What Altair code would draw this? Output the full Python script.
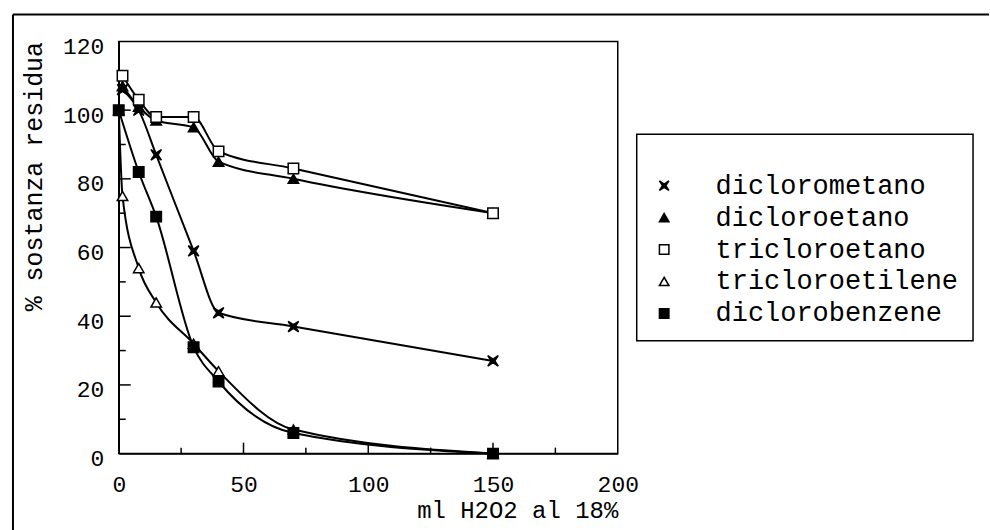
import altair as alt
import pandas as pd

# ---- data ----
series_names = ["diclorometano", "dicloroetano", "tricloroetano", "tricloroetilene", "diclorobenzene"]

x_diclorometano = [1.5, 8, 15, 30, 40, 70, 150]
y_diclorometano = [106, 100, 87, 59, 41, 37, 27]

x_dicloroetano = [1.5, 8, 15, 30, 40, 70, 150]
y_dicloroetano = [107, 101, 97, 95, 85, 80, 70]

x_tricloroetano = [1.5, 8, 15, 30, 40, 70, 150]
y_tricloroetano = [110, 103, 98, 98, 88, 83, 70]

x_tricloroetilene = [0, 1.5, 8, 15, 30, 40, 70, 150]
y_tricloroetilene = [100, 75, 54, 44, 32, 24, 7, 0]

x_diclorobenzene = [0, 8, 15, 30, 40, 70, 150]
y_diclorobenzene = [100, 82, 69, 31, 21, 6, 0]

x_tick_labels = [0, 50, 100, 150, 200]
y_tick_labels = [0, 20, 40, 60, 80, 100, 120]
x_major_ticks = [50, 100, 150]
x_minor_ticks = [25, 75, 125, 175]
y_major_ticks = [20, 40, 60, 80, 100]
y_minor_ticks = [10, 30, 50, 70, 90, 110]

x_title = "ml H2O2 al 18%"
y_title = "% sostanza residua"

# ---- build table ----
pairs = [
    (x_diclorometano, y_diclorometano),
    (x_dicloroetano, y_dicloroetano),
    (x_tricloroetano, y_tricloroetano),
    (x_tricloroetilene, y_tricloroetilene),
    (x_diclorobenzene, y_diclorobenzene),
]
rows = []
for name, (xs, ys) in zip(series_names, pairs):
    for xv, yv in zip(xs, ys):
        rows.append({"series": name, "x": xv, "y": yv})
df = pd.DataFrame(rows)

W, H = 500, 413
FONT = "Liberation Mono"

xscale = alt.Scale(domain=[0, 200], nice=False, zero=False)
yscale = alt.Scale(domain=[0, 120], nice=False, zero=False)

X_ENC = alt.X("x:Q", scale=xscale, title=x_title,
              axis=alt.Axis(values=x_tick_labels, ticks=False, grid=False,
                            labelPadding=20, labelFlush=False, labelOverlap=False,
                            titleAnchor="end", titlePadding=2))
Y_ENC = alt.Y("y:Q", scale=yscale, title=y_title,
              axis=alt.Axis(values=y_tick_labels, ticks=False, grid=False,
                            labelPadding=15, labelOffset=5, labelOverlap=False,
                            titleAnchor="end", titlePadding=16))

x_xlt_shape = "M-1,-1L0,-0.35L1,-1L0.35,0L1,1L0,0.35L-1,1L-0.35,0Z"
shape_range = [x_xlt_shape, "triangle-up", "square", "triangle-up", "square"]
fill_range = ["black", "black", "white", "white", "black"]
stroke_range = ["black", "black", "black", "black", "black"]

base = alt.Chart(df)

lines = base.mark_line(color="black", strokeWidth=2, interpolate="monotone").encode(
    x=X_ENC, y=Y_ENC, detail="series:N"
)

legend_def = alt.Legend(title=" ", labelLimit=500)

points = base.mark_point(filled=True, strokeWidth=1.5, size=110, opacity=1).encode(
    x=X_ENC,
    y=Y_ENC,
    shape=alt.Shape("series:N", scale=alt.Scale(domain=series_names, range=shape_range),
                    legend=legend_def),
    fill=alt.Fill("series:N", scale=alt.Scale(domain=series_names, range=fill_range),
                  legend=legend_def),
    stroke=alt.Stroke("series:N", scale=alt.Scale(domain=series_names, range=stroke_range),
                      legend=legend_def),
)

xt_major = alt.Chart(pd.DataFrame({"x": x_major_ticks})).mark_rule(color="black", strokeWidth=1.5).encode(
    x=X_ENC, y=alt.value(H), y2=alt.value(H - 11)
)
xt_minor = alt.Chart(pd.DataFrame({"x": x_minor_ticks})).mark_rule(color="black", strokeWidth=1.5).encode(
    x=X_ENC, y=alt.value(H), y2=alt.value(H - 6)
)
yt_major = alt.Chart(pd.DataFrame({"y": y_major_ticks})).mark_rule(color="black", strokeWidth=1.5).encode(
    y=Y_ENC, x=alt.value(0), x2=alt.value(12)
)
yt_minor = alt.Chart(pd.DataFrame({"y": y_minor_ticks})).mark_rule(color="black", strokeWidth=1.5).encode(
    y=Y_ENC, x=alt.value(0), x2=alt.value(7)
)

one = pd.DataFrame({"k": [0]})
frame_top = alt.Chart(one).mark_rule(color="black", strokeWidth=2).encode(
    x=alt.value(-106), x2=alt.value(872), y=alt.value(-27)
)
frame_left = alt.Chart(one).mark_rule(color="black", strokeWidth=2).encode(
    x=alt.value(-106), y=alt.value(-27), y2=alt.value(490)
)

chart = alt.layer(
    frame_top, frame_left, xt_major, xt_minor, yt_major, yt_minor, lines, points
).properties(
    width=W, height=H,
    padding={"left": 12, "top": 13, "right": 0, "bottom": 0},
    background="white",
).configure_view(
    stroke="black", strokeWidth=1.5
).configure_axis(
    domainColor="black", domainWidth=1.5,
    labelFont=FONT, labelFontSize=23, labelColor="black",
    titleFont=FONT, titleFontSize=25, titleFontWeight="normal", titleColor="black",
).configure_axisX(
    titleFontSize=24
).configure_legend(
    orient="none", legendX=519, legendY=93,
    strokeColor="black", strokeWidth=1.5, padding=14,
    titleFontSize=12, titlePadding=12,
    labelFont=FONT, labelFontSize=27, labelColor="black", labelOffset=38,
    rowPadding=4, symbolSize=90, symbolStrokeWidth=1.5,
)

chart.save("out.html", embed_options={"renderer": "svg", "actions": False})
